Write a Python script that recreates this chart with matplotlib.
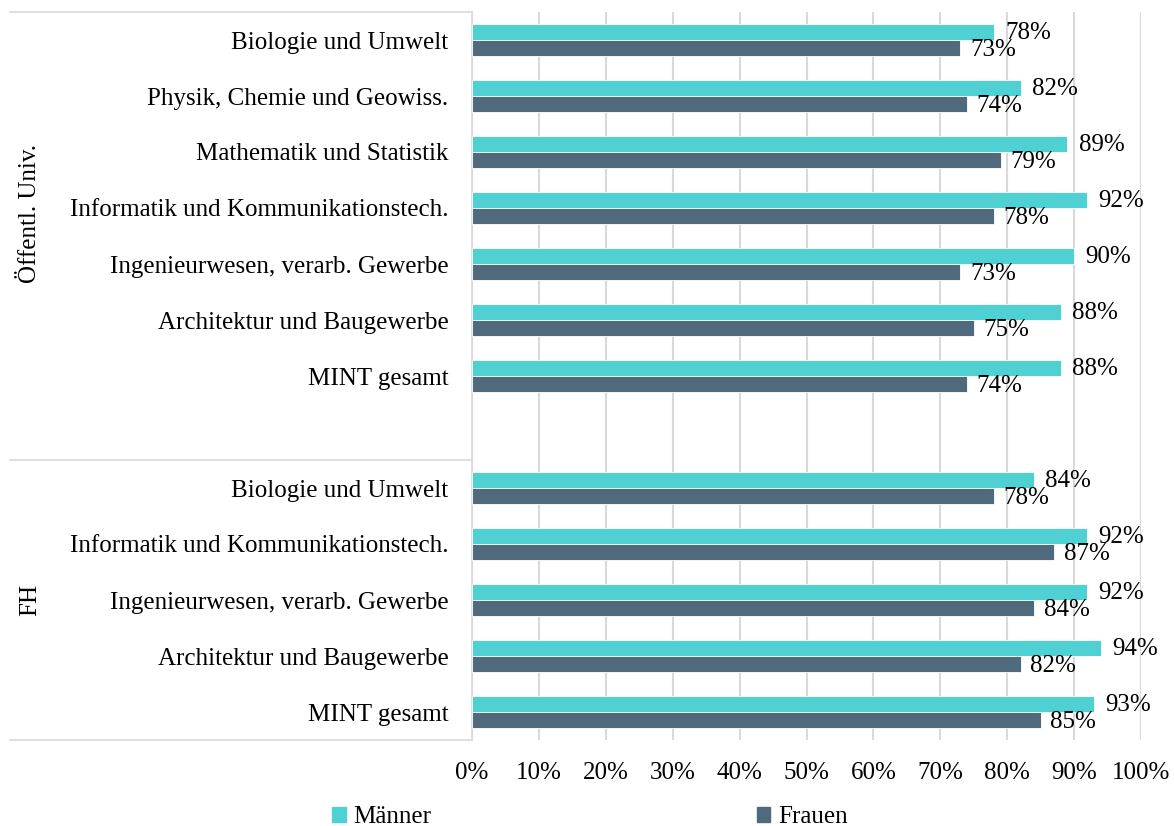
import matplotlib
matplotlib.use("Agg")
import matplotlib.pyplot as plt
import matplotlib.transforms as mtransforms
from matplotlib.lines import Line2D
from matplotlib.patches import Patch
from matplotlib.ticker import FuncFormatter

plt.rcParams['font.family'] = ['Liberation Serif', 'DejaVu Serif']
plt.rcParams['font.size'] = 18

# data
uni_cats = ['Biologie und Umwelt', 'Physik, Chemie und Geowiss.', 'Mathematik und Statistik',
            'Informatik und Kommunikationstech.', 'Ingenieurwesen, verarb. Gewerbe',
            'Architektur und Baugewerbe', 'MINT gesamt']
uni_maenner = [78, 82, 89, 92, 90, 88, 88]
uni_frauen = [73, 74, 79, 78, 73, 75, 74]

fh_cats = ['Biologie und Umwelt', 'Informatik und Kommunikationstech.',
           'Ingenieurwesen, verarb. Gewerbe', 'Architektur und Baugewerbe', 'MINT gesamt']
fh_maenner = [84, 92, 92, 94, 93]
fh_frauen = [78, 87, 84, 82, 85]

groups = ['Öffentl. Univ.', 'FH']
series = ['Männer', 'Frauen']
colors = ['#4FD1D3', '#4F6A7C']
grid_col = '#D9D9D9'

W, H = 1174, 826
fig = plt.figure(figsize=(W / 100, H / 100), dpi=100)
ax = fig.add_axes([472 / W, 86 / H, 669 / W, 728 / H])

# slot positions: uni 0..6, empty slot 7, fh 8..12
ypos = list(range(len(uni_cats))) + [len(uni_cats) + 1 + i for i in range(len(fh_cats))]
cats = uni_cats + fh_cats
maenner = uni_maenner + fh_maenner
frauen = uni_frauen + fh_frauen

h = 0.275
off = 0.145
ym = [y - off for y in ypos]
yf = [y + off for y in ypos]
ax.barh(ym, maenner, height=h, color=colors[0], edgecolor='white', linewidth=0.6, zorder=3)
ax.barh(yf, frauen, height=h, color=colors[1], edgecolor='white', linewidth=0.6, zorder=3)

for y, v in zip(ym, maenner):
    ax.annotate(f'{v}%', (v, y), xytext=(8, -1), textcoords='offset points',
                ha='left', va='center', fontsize=18, annotation_clip=False)
for y, v in zip(yf, frauen):
    ax.annotate(f'{v}%', (v, y), xytext=(7, -1), textcoords='offset points',
                ha='left', va='center', fontsize=18, annotation_clip=False)

ax.set_xlim(0, 100)
ax.set_ylim(12.5, -0.5)
ax.set_xticks(range(0, 101, 10))
ax.xaxis.set_major_formatter(FuncFormatter(lambda x, p: f'{int(x)}%'))
ax.set_yticks(ypos)
ax.set_yticklabels(cats)
ax.tick_params(axis='y', length=0, pad=17)
ax.tick_params(axis='x', length=0, pad=16)
ax.grid(axis='x', color=grid_col, linewidth=1.5, zorder=0)
for s in ['top', 'right', 'bottom']:
    ax.spines[s].set_visible(False)
ax.spines['left'].set_color(grid_col)
ax.spines['left'].set_linewidth(1.2)

# category table lines on the left
tr = mtransforms.blended_transform_factory(fig.transFigure, ax.transData)
for yl in [-0.5, 7.5, 12.5]:
    fig.add_artist(Line2D([10 / W, 472 / W], [yl, yl], transform=tr,
                          color=grid_col, linewidth=1.2))

fig.text(30 / W, 3.1, groups[0], rotation=90, ha='center', va='center', transform=tr)
fig.text(30 / W, 10, groups[1], rotation=90, ha='center', va='center', transform=tr)

handles = [Patch(color=colors[0]), Patch(color=colors[1])]
fig.legend(handles, series, loc='center', bbox_to_anchor=(590 / W, 9 / H), ncol=2,
           frameon=False, handlelength=0.55, handleheight=0.55, handletextpad=0.3,
           columnspacing=13, fontsize=18)

fig.savefig('out.png', dpi=100)
